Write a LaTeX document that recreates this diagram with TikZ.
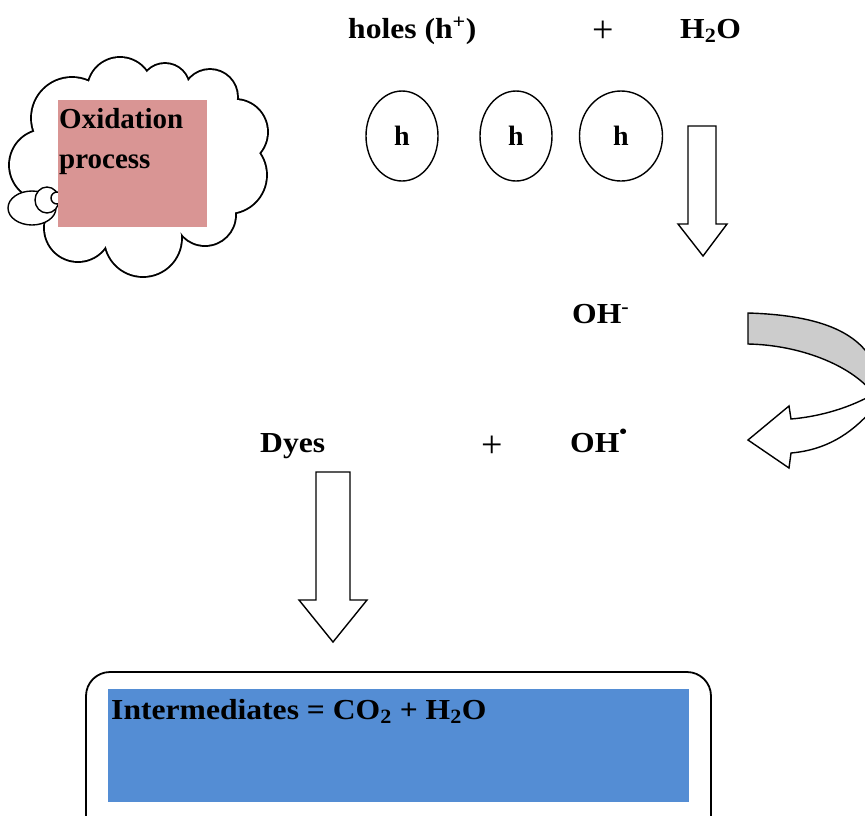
\documentclass[tikz,border=0pt]{standalone}
\usepackage{fontspec}
\setmainfont{Liberation Serif}
\usetikzlibrary{shapes.geometric}
\definecolor{pinkbox}{HTML}{D99594}
\definecolor{bluebox}{HTML}{548DD4}
\definecolor{arrowgray}{HTML}{CCCCCC}
\begin{document}
\begin{tikzpicture}[x=1pt,y=-1pt,
  lbl/.style={inner sep=0pt,anchor=base west,font=\fontsize{29}{34}\selectfont\bfseries},
  wide/.style={lbl,xscale=1.09},
  plussign/.style={inner sep=0pt,anchor=center,font=\fontsize{38}{42}\selectfont},
  hole/.style={draw,line width=1.4pt,ellipse,inner sep=0pt,font=\fontsize{28}{32}\selectfont\bfseries},
  blockarrow/.style={draw,line width=1.4pt,fill=white,line join=miter},
  outl/.style={line width=1.4pt}]
\useasboundingbox (0,0) rectangle (865,815);
\clip (0,0) rectangle (865,815);
% cloud
\foreach \cx/\cy/\r in {72/118/40,120/90/32,165/88/24,210/97/27,235/132/32,228/175/38,205/215/30,143/238/38,78/228/33,45/165/35}
  \draw[line width=3.8pt] (\cx,\cy) circle[radius=\r pt];
\foreach \cx/\cy/\r in {72/118/40,120/90/32,165/88/24,210/97/27,235/132/32,228/175/38,205/215/30,143/238/38,78/228/33,45/165/35}
  \fill[white] (\cx,\cy) circle[radius=\r pt];
\fill[white] (140,165) circle[radius=75pt];
\draw[outl,fill=white] (32,208) ellipse[x radius=24pt,y radius=17pt];
\draw[outl,fill=white] (47,200) ellipse[x radius=12pt,y radius=13pt];
\draw[outl,fill=white] (57,198) ellipse[x radius=6pt,y radius=6pt];
\fill[pinkbox] (58,100) rectangle (207,227);
\node[lbl] (ox) at (59,128) {Oxidation};
\node[lbl] (pr) at (59,168) {process};
% top row
\node[wide] (holes) at (348,38) {holes (h\textsuperscript{+})};
\node[plussign] (plus1) at (603,32) {+};
\node[wide] (water) at (680,38) {H\textsubscript{2}O};
\node[hole,minimum width=72pt,minimum height=90pt] (h1) at (402,136) {h};
\node[hole,minimum width=72pt,minimum height=90pt] (h2) at (516,136) {h};
\node[hole,minimum width=83pt,minimum height=90pt] (h3) at (621,136) {h};
% arrow 1
\draw[blockarrow] (688,126) -- (716,126) -- (716,224) -- (727,224) -- (703,256) -- (678,224) -- (688,224) -- cycle;
\node[wide] (ohm) at (572,323) {OH\textsuperscript{-}};
% curved arrow
\draw[outl,fill=arrowgray] (748,313) .. controls (815,315) and (855,330) .. (872,360)
  -- (872,392) .. controls (850,365) and (800,345) .. (748,344) -- cycle;
\draw[outl,fill=white] (872,395) .. controls (845,410) and (815,417) .. (791,419)
  -- (789,406) -- (748,440) -- (789,468) -- (791,453)
  .. controls (825,450) and (850,435) .. (872,410);
% middle row
\node[wide] (dyes) at (260,452) {Dyes};
\node[plussign] (plus2) at (492,447) {+};
\node[wide] (ohr) at (570,452) {OH\textsuperscript{\raisebox{0.5ex}{\textbullet}}};
% arrow 2
\draw[blockarrow] (316,472) -- (350,472) -- (350,600) -- (367,600) -- (333,642) -- (299,600) -- (316,600) -- cycle;
% bottom box
\draw[line width=1.8pt,rounded corners=24pt] (86,850) -- (86,672) -- (711,672) -- (711,850);
\fill[bluebox] (108,689) rectangle (689,802);
\node[wide] (inter) at (111,719) {Intermediates = CO\textsubscript{2} + H\textsubscript{2}O};
\end{tikzpicture}
\end{document}
